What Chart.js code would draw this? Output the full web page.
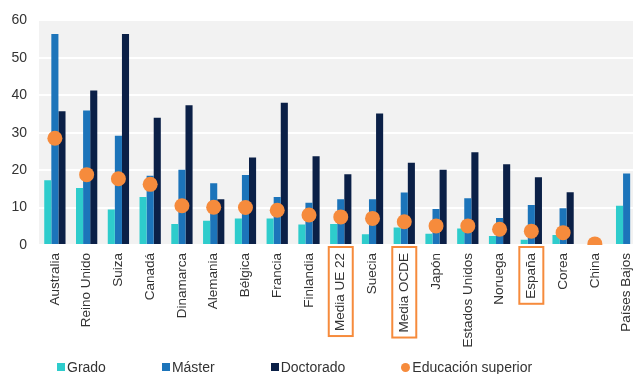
<!DOCTYPE html>
<html>
<head>
<meta charset="utf-8">
<script src="https://cdn.jsdelivr.net/npm/chart.js@4"></script>
<style>
  body { margin: 0; overflow: hidden; background: #fff; }
  #wrap { position: relative; width: 650px; height: 374px; }
  #legend { position: absolute; left: 57px; top: 359px; display: flex; align-items: center;
            font: 14px "Liberation Sans", Arial, sans-serif; color: #333; white-space: nowrap; }
  #legend .item { display: flex; align-items: center; margin-right: 56px; }
  #legend .mark { width: 8px; height: 8px; margin-right: 2px; }
  #legend .dot { width: 9px; height: 9px; border-radius: 50%; }
</style>
</head>
<body>
<div id="wrap">
  <canvas id="chart" width="650" height="374"></canvas>
  <div id="legend"></div>
</div>
<script>
const categories = ['Australia', 'Reino Unido', 'Suiza', 'Canadá', 'Dinamarca', 'Alemania', 'Bélgica',
  'Francia', 'Finlandia', 'Media UE 22', 'Suecia', 'Media OCDE', 'Japón', 'Estados Unidos',
  'Noruega', 'España', 'Corea', 'China', 'Países Bajos'];
const grado = [17.3, 15.2, 9.5, 12.8, 5.6, 6.5, 7.1, 7.1, 5.5, 5.6, 2.9, 4.7, 3.0, 4.4, 2.4, 1.4, 2.7, null, 10.5];
const master = [56.4, 35.9, 29.2, 18.5, 20.1, 16.5, 18.7, 12.8, 11.3, 12.2, 12.2, 14.0, 9.6, 12.5, 7.2, 10.7, 9.8, null, 19.1];
const doctorado = [35.7, 41.3, 56.4, 34.0, 37.3, 12.2, 23.4, 38.0, 23.7, 18.9, 35.1, 22.0, 20.1, 24.8, 21.6, 18.1, 14.1, null, null];
const superior = [28.5, 18.8, 17.7, 16.2, 10.5, 10.1, 10.0, 9.3, 8.0, 7.5, 7.1, 6.2, 5.1, 5.1, 4.2, 3.7, 3.3, 0.3, null];
const yTicks = [0, 10, 20, 30, 40, 50, 60];
const highlighted = ['Media UE 22', 'Media OCDE', 'España'];

const ORANGE = '#F68B3C';
const FONT = '"Liberation Sans", Arial, sans-serif';
const LABEL_SIZE = 13.5;

// grey plot background
const plotBg = {
  id: 'plotBg',
  beforeDraw(chart) {
    const { ctx, chartArea: a } = chart;
    ctx.save();
    ctx.fillStyle = '#F2F2F2';
    ctx.fillRect(a.left, a.top, a.right - a.left, a.bottom - a.top + 1);
    ctx.restore();
  }
};

// orange frames round some of the category labels
const labelBoxes = {
  id: 'labelBoxes',
  afterDraw(chart) {
    const { ctx } = chart;
    const x = chart.scales.x;
    ctx.save();
    ctx.font = LABEL_SIZE + 'px ' + FONT;
    ctx.strokeStyle = ORANGE;
    ctx.lineWidth = 2;
    highlighted.forEach(name => {
      const i = categories.indexOf(name);
      const cx = x.getPixelForValue(i);
      const w = ctx.measureText(name).width;
      const top = x.top + 2;
      const bottom = x.top + 9 + w + 4;
      ctx.strokeRect(cx - 12, top, 24, bottom - top);
    });
    ctx.restore();
  }
};

const chart = new Chart(document.getElementById('chart'), {
  data: {
    labels: categories,
    datasets: [
      { type: 'line', label: 'Educación superior', data: superior, showLine: false,
        pointRadius: 7.5, pointHoverRadius: 7.5, pointBackgroundColor: ORANGE,
        pointBorderWidth: 0, borderColor: ORANGE, backgroundColor: ORANGE, order: 0 },
      { type: 'bar', label: 'Grado', data: grado, backgroundColor: '#2ECCCC', order: 1 },
      { type: 'bar', label: 'Máster', data: master, backgroundColor: '#1C74BA', order: 1 },
      { type: 'bar', label: 'Doctorado', data: doctorado, backgroundColor: '#0B2047', order: 1 }
    ]
  },
  options: {
    responsive: false,
    animation: false,
    layout: { padding: { top: 18, right: 5, left: 0, bottom: 0 } },
    datasets: { bar: { categoryPercentage: 0.67, barPercentage: 1 } },
    plugins: { legend: { display: false }, tooltip: { enabled: false } },
    scales: {
      x: {
        grid: { display: false },
        border: { display: false },
        afterFit(s) { s.height = 129; },
        ticks: {
          autoSkip: false, maxRotation: 90, minRotation: 90, padding: 0,
          color: '#333', font: { family: FONT, size: LABEL_SIZE }
        }
      },
      y: {
        min: 0, max: 60,
        afterFit(s) { s.width = 39; },
        afterBuildTicks(s) { s.ticks = yTicks.map(v => ({ value: v })); },
        grid: { color: '#FFFFFF', lineWidth: 2, drawTicks: false },
        border: { display: false },
        ticks: { padding: 12, color: '#333', font: { family: FONT, size: 14 } }
      }
    }
  },
  plugins: [plotBg, labelBoxes]
});

// legend in the reference order
const legend = document.getElementById('legend');
['Grado', 'Máster', 'Doctorado', 'Educación superior'].forEach(name => {
  const ds = chart.data.datasets.find(d => d.label === name);
  const item = document.createElement('div');
  item.className = 'item';
  const mark = document.createElement('span');
  mark.className = ds.type === 'line' ? 'mark dot' : 'mark';
  mark.style.background = ds.backgroundColor;
  item.appendChild(mark);
  item.appendChild(document.createTextNode(name));
  legend.appendChild(item);
});
</script>
</body>
</html>
